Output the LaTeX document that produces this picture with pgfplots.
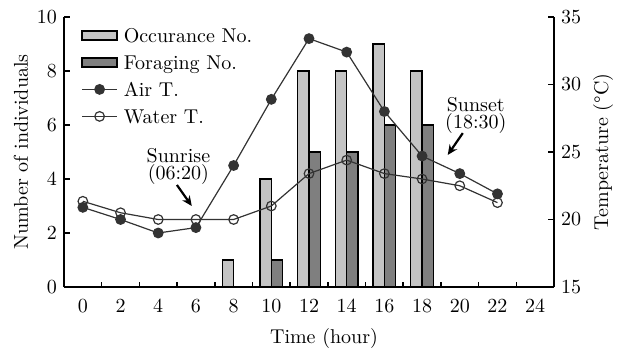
\documentclass[border=0pt]{standalone}
\usepackage{pgfplots}
\pgfplotsset{compat=1.18}
\usetikzlibrary{arrows.meta}
\definecolor{occ}{HTML}{C4C4C4}
\definecolor{forg}{HTML}{7F7F7F}
\definecolor{ln}{HTML}{333333}
\pgfplotsset{
  barlegend/.style={legend image code/.code={\draw[##1] (0pt,1.1pt) rectangle (17.5pt,5.7pt);}},
  linelegend/.style={legend image code/.code={\draw[mark repeat=2,mark phase=2,##1] plot coordinates {(0pt,3.4pt)(8.75pt,3.4pt)(17.5pt,3.4pt)};}},
  common/.style={
    scale only axis, width=245pt, height=135pt,
    xmin=-1, xmax=25,
    axis line style={line width=1pt,-},
    tick align=inside,
    major tick length=3pt, minor tick length=2.5pt,
    tick style={line width=0.8pt, black},
    font=\fontsize{10}{12}\selectfont,
  },
}
\begin{document}
\begin{tikzpicture}
\useasboundingbox (-32pt,-30.5pt) rectangle (283pt,143.5pt);
\begin{axis}[common,
  ymin=0, ymax=10,
  axis x line*=bottom, axis y line*=left,
  xtick={0,2,...,24}, minor xtick={1,3,...,23},
  major x tick style={draw=none},
  ytick={0,2,...,10},
  xticklabel style={anchor=base, yshift=-12.5pt},
  every axis x label/.style={at={(axis description cs:0.5,0)}, xshift=7.5pt, yshift=-28pt, anchor=base},
  every axis y label/.style={at={(axis description cs:0,0.5)}, xshift=-18pt, rotate=90, anchor=base},
  xlabel={Time (hour)},
  ylabel={Number of individuals},
]
\addplot[ybar, bar width=0.6, bar shift=-0.3, fill=occ, draw=black, line width=0.7pt]
  coordinates {(8,1)(10,4)(12,8)(14,8)(16,9)(18,8)};
\addplot[ybar, bar width=0.6, bar shift=0.3, fill=forg, draw=black, line width=0.7pt]
  coordinates {(10,1)(12,5)(14,5)(16,6)(18,6)};
\node[align=center, inner sep=0pt] at (axis cs:5.07,4.48) {Sunrise\\[-3.5pt](06:20)};
\node[align=center, inner sep=0pt] at (axis cs:20.85,6.35) {Sunset\\[-3.5pt](18:30)};
\draw[-{Stealth[length=5pt,width=4.5pt]}, line width=1.1pt] (axis cs:4.99,3.78) -- (axis cs:5.78,3.0);
\draw[-{Stealth[length=5pt,width=4.5pt]}, line width=1.1pt] (axis cs:20.16,5.7) -- (axis cs:19.36,4.89);
\end{axis}
\begin{axis}[common,
  ymin=15, ymax=35,
  axis y line*=right, axis x line=none,
  ytick={15,20,...,35},
  every axis y label/.style={at={(axis description cs:1,0.5)}, xshift=27pt, rotate=90, anchor=base},
  ylabel={Temperature (\textdegree C)},
  legend style={at={(axis description cs:0,1)}, anchor=north west, xshift=8.5pt, yshift=-5.4pt,
    draw=none, fill=none, inner sep=0pt, row sep=4.5pt, column sep=3pt,
    nodes={inner sep=0pt, text height=7pt, text depth=2pt, anchor=base west},
    font=\fontsize{10}{12}\selectfont},
  legend cell align=left,
]
\addlegendimage{barlegend, fill=occ, draw=black, line width=0.7pt}
\addlegendimage{barlegend, fill=forg, draw=black, line width=0.7pt}
\addplot[linelegend, color=ln, line width=0.6pt, mark=*, mark size=2.4pt, mark options={fill=ln, draw=ln}]
  coordinates {(0,20.9)(2,20.0)(4,19.0)(6,19.4)(8,24.0)(10,28.9)(12,33.4)(14,32.4)(16,28.0)(18,24.7)(20,23.4)(22,21.9)};
\addplot[linelegend, color=ln, line width=0.6pt, mark=o, mark size=2.4pt, mark options={fill=white, draw=ln}]
  coordinates {(0,21.35)(2,20.5)(4,20.0)(6,20.0)(8,20.0)(10,21.0)(12,23.4)(14,24.4)(16,23.4)(18,23.0)(20,22.5)(22,21.25)};
\legend{Occurance No., Foraging No., Air T., Water T.}
\end{axis}
\end{tikzpicture}
\end{document}
